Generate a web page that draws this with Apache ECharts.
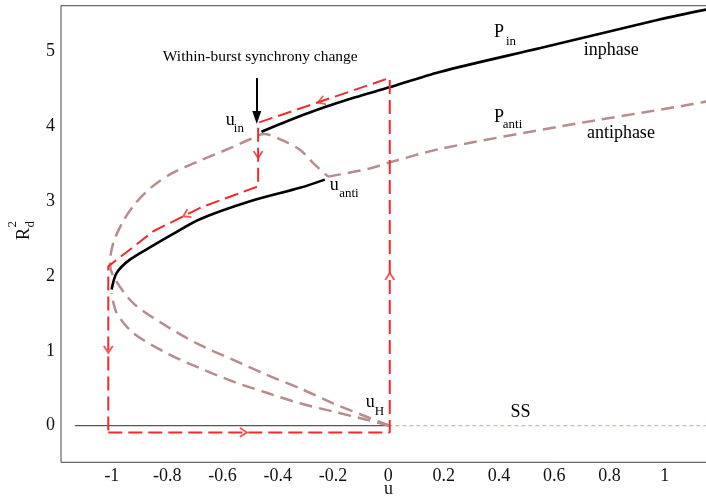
<!DOCTYPE html>
<html>
<head>
<meta charset="utf-8">
<script src="https://cdn.jsdelivr.net/npm/echarts@6/dist/echarts.min.js"></script>
<style>
  html, body { margin: 0; padding: 0; background: #fff; }
  #chart { width: 706px; height: 500px; }
</style>
</head>
<body>
<div id="chart"></div>
<script>
// Tick values on both axes
const xTicks = [-1, -0.8, -0.6, -0.4, -0.2, 0, 0.2, 0.4, 0.6, 0.8, 1];
const yTicks = [0, 1, 2, 3, 4, 5];

// Stable in-phase branch P_in, starting at u_in
const pInStable = [[-0.459, 3.93], [-0.36, 4.08], [-0.26, 4.22], [-0.12, 4.39], [0.0, 4.52],
  [0.186, 4.73], [0.55, 5.05], [0.98, 5.43], [1.16, 5.57]];

// Stable lower branch from the fold near u = -1 up to u_anti
const lowerStable = [[-1.001, 1.82], [-0.983, 2.04], [-0.935, 2.22], [-0.85, 2.41], [-0.78, 2.56],
  [-0.682, 2.76], [-0.5, 3.0], [-0.32, 3.18], [-0.23, 3.29]];

// Unstable branch leaving the Hopf point, folding at u = -1, over u_in and down to u_anti
const outerUnstable = [[0.005, 0.0], [-0.079, 0.12], [-0.2, 0.30], [-0.32, 0.50], [-0.44, 0.68],
  [-0.561, 0.88], [-0.682, 1.08], [-0.802, 1.33], [-0.923, 1.64], [-0.995, 2.0],
  [-1.007, 2.18], [-0.995, 2.44], [-0.96, 2.73], [-0.913, 2.98], [-0.853, 3.20], [-0.78, 3.38],
  [-0.69, 3.53], [-0.573, 3.71], [-0.5, 3.83], [-0.45, 3.9], [-0.386, 3.82], [-0.32, 3.69],
  [-0.266, 3.49], [-0.218, 3.33]];

// Unstable branch from the Hopf point to the lower fold
const innerUnstable = [[0.005, 0.0], [-0.079, 0.08], [-0.2, 0.19], [-0.32, 0.30], [-0.44, 0.44],
  [-0.561, 0.59], [-0.682, 0.77], [-0.802, 0.97], [-0.923, 1.24], [-0.983, 1.51], [-1.001, 1.77]];

// Unstable anti-phase branch P_anti, starting at u_anti
const pAnti = [[-0.218, 3.33], [-0.175, 3.36], [-0.067, 3.44], [0.005, 3.52], [0.186, 3.70],
  [0.62, 4.0], [1.055, 4.27], [1.16, 4.34]];

// Steady state SS: stable for u < 0, unstable for u > 0
const ssStable = [[-1.134, 0], [0, 0]];
const ssUnstable = [[0, 0], [1.16, 0]];

// Burst cycle traced around the hysteresis loop
const burstLoop = [[-1.013, -0.09], [0.005, -0.09], [0.005, 4.65], [-0.471, 4.05],
  [-0.471, 3.2], [-0.677, 2.92], [-0.85, 2.6], [-1.013, 2.13], [-1.013, -0.09]];
// Direction markers: [segment index, fraction along that segment]
const loopArrowAt = [[0, 0.48], [1, 0.44], [2, 0.52], [3, 0.5], [5, 0.31], [7, 0.5]];

// Pointer to the synchrony change
const noteArrow = [[-0.476, 4.65], [-0.476, 4.12]];

// Text annotations (left edge, baseline) in data units
const notes = [
  { text: 'Within-burst synchrony change', at: [-0.8156, 4.857], kind: 'note' },
  { text: 'P', at: [0.3816, 5.174], kind: 'main' },
  { text: 'in', at: [0.425, 5.071], kind: 'sub' },
  { text: 'inphase', at: [0.707, 4.933], kind: 'main' },
  { text: 'P', at: [0.3816, 4.047], kind: 'main' },
  { text: 'anti', at: [0.414, 3.967], kind: 'sub' },
  { text: 'antiphase', at: [0.718, 3.824], kind: 'main' },
  { text: 'u', at: [-0.5877, 4.001], kind: 'main' },
  { text: 'in', at: [-0.5588, 3.913], kind: 'sub' },
  { text: 'u', at: [-0.2116, 3.132], kind: 'main' },
  { text: 'anti', at: [-0.178, 3.044], kind: 'sub' },
  { text: 'u', at: [-0.0814, 0.2366], kind: 'main' },
  { text: 'H', at: [-0.0488, 0.1337], kind: 'sub' },
  { text: 'SS', at: [0.442, 0.0936], kind: 'main' }
];

const SERIF = 'Liberation Serif';
const fontSizes = { note: 15.5, main: 18, sub: 13 };
const BLACK = '#000000';
const BROWN = '#b78c8c';
const RED = '#f22a2a';
const INK = '#111111';

function curve(name, data, color, width, dash) {
  return {
    name, type: 'line', data, smooth: 0.3, showSymbol: false, silent: true,
    lineStyle: { color, width, type: dash || 'solid' }, z: dash ? 2 : 3
  };
}

const option = {
  animation: false,
  backgroundColor: '#ffffff',
  textStyle: { fontFamily: SERIF },
  grid: {
    left: 61, top: 5.7, bottom: 37.7, right: -2,
    show: true, borderColor: '#444', borderWidth: 1,
    outerBoundsMode: 'none'
  },
  xAxis: {
    type: 'value', min: -1.184, max: 1.156,
    axisLine: { show: false }, axisTick: { show: false }, splitLine: { show: false },
    axisLabel: {
      customValues: xTicks, fontSize: 18, color: INK, margin: 5, fontFamily: SERIF,
      formatter: v => String(Math.round(v * 10) / 10)
    },
    name: 'u', nameLocation: 'middle', nameGap: 18, nameMoveOverlap: false,
    nameTextStyle: { fontSize: 18, color: INK, fontFamily: SERIF, padding: [0, 0, 0, 8] }
  },
  yAxis: {
    type: 'value', min: -0.489, max: 5.615,
    axisLine: { show: false }, axisTick: { show: false }, splitLine: { show: false },
    axisLabel: {
      customValues: yTicks, fontSize: 18, color: INK, margin: 6, fontFamily: SERIF,
      formatter: v => String(Math.round(v))
    }
  },
  graphic: [{
    type: 'group', x: 30, y: 240, rotation: Math.PI / 2,
    children: [
      { type: 'text', style: { text: 'R', x: 0, y: -6.1, font: '18px "Liberation Serif"', fill: INK, textAlign: 'left', textVerticalAlign: 'middle' } },
      { type: 'text', style: { text: 'd', x: 12.5, y: 0.6, font: '13px "Liberation Serif"', fill: INK, textAlign: 'left', textVerticalAlign: 'middle' } },
      { type: 'text', style: { text: '2', x: 12.5, y: -17.4, font: '13px "Liberation Serif"', fill: INK, textAlign: 'left', textVerticalAlign: 'middle' } }
    ]
  }],
  series: [
    {
      name: 'SS stable', type: 'line', data: ssStable, showSymbol: false, silent: true,
      lineStyle: { color: '#555', width: 1.2 }, z: 1
    },
    {
      name: 'SS unstable', type: 'line', data: ssUnstable, showSymbol: false, silent: true,
      lineStyle: { color: '#c9a3a3', width: 1, type: [4, 3] }, z: 1
    },
    curve('outer unstable', outerUnstable, BROWN, 2.5, [13, 7]),
    curve('inner unstable', innerUnstable, BROWN, 2.5, [13, 7]),
    curve('P_anti', pAnti, BROWN, 2.5, [13, 7]),
    curve('lower stable', lowerStable, BLACK, 2.6),
    curve('P_in', pInStable, BLACK, 2.6),
    {
      name: 'burst loop', type: 'line', data: burstLoop, showSymbol: false, silent: true,
      lineStyle: { color: RED, width: 2, type: [14, 6] }, z: 4
    },
    {
      id: 'loopArrows', type: 'scatter', data: [], silent: true, z: 5,
      symbol: 'path://M0,10 L5,0 L10,10', symbolSize: [9, 7],
      itemStyle: { color: 'none', borderColor: RED, borderWidth: 1.7 }
    },
    {
      name: 'pointer', type: 'line', data: [], silent: true,
      markLine: {
        silent: true, animation: false, label: { show: false },
        lineStyle: { color: '#000', width: 2, type: 'solid' },
        emphasis: { disabled: true },
        data: [[
          { coord: noteArrow[0], symbol: 'none' },
          { coord: noteArrow[1], symbol: 'path://M5,0 L10,14 L0,14 Z', symbolSize: [9, 13] }
        ]]
      }
    },
    {
      name: 'notes', type: 'scatter', silent: true, z: 6,
      symbolSize: 0.01, itemStyle: { color: INK, opacity: 1 },
      data: notes.map(n => ({
        value: n.at,
        label: {
          show: true, formatter: n.text, position: [0, 0],
          align: 'left', verticalAlign: 'middle',
          fontSize: fontSizes[n.kind], fontFamily: SERIF, color: '#000',
          textBorderWidth: 0, opacity: 1,
          offset: [0, -0.3375 * fontSizes[n.kind]]
        }
      }))
    }
  ]
};

const chart = echarts.init(document.getElementById('chart'), null, { renderer: 'canvas' });
chart.setOption(option);

// Place the direction markers on the loop and turn them along each segment
function loopArrows() {
  return loopArrowAt.map(([seg, t]) => {
    const a = burstLoop[seg], b = burstLoop[seg + 1];
    const p = [a[0] + (b[0] - a[0]) * t, a[1] + (b[1] - a[1]) * t];
    const pa = chart.convertToPixel({ gridIndex: 0 }, a);
    const pb = chart.convertToPixel({ gridIndex: 0 }, b);
    const angle = Math.atan2(-(pb[0] - pa[0]), -(pb[1] - pa[1])) * 180 / Math.PI;
    return { value: p, symbolRotate: angle };
  });
}
chart.setOption({ series: [{ id: 'loopArrows', data: loopArrows() }] });
</script>
</body>
</html>
